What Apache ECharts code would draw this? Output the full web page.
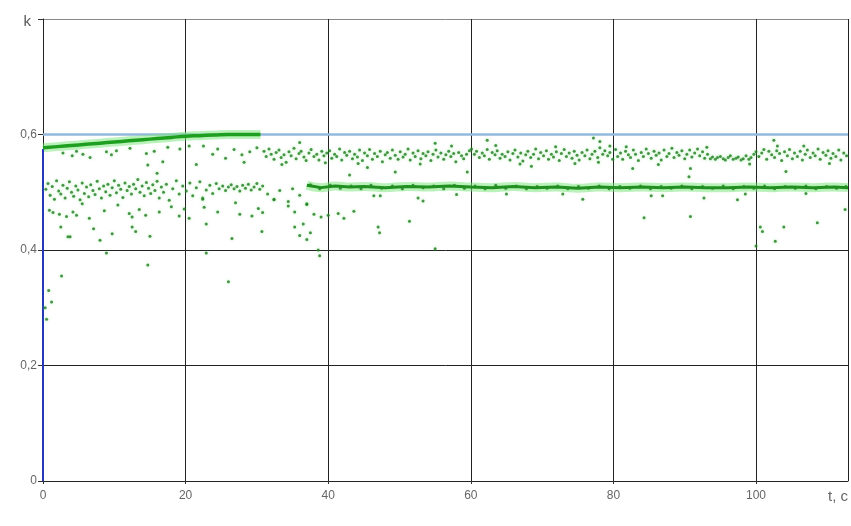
<!DOCTYPE html>
<html><head><meta charset="utf-8">
<script src="https://cdn.jsdelivr.net/npm/echarts@6/dist/echarts.min.js"></script>
<style>html,body{margin:0;padding:0;background:#fff}#c{width:851px;height:526px}</style>
</head><body><div id="c"></div>
<script>
// axis ticks
const xTicks = [0, 20, 40, 60, 80, 100];
const yTicks = [0, 0.2, 0.4, 0.6, 0.8];
const xMax = 112.9;

// blue curves
const blueRise = [[0, 0], [0, 0.575]];
const limitLine = [[0, 0.6], [112.9, 0.6]];

// dense green bands
const upperRise = [[0,0.577],[2,0.579],[4,0.581],[6,0.583],[8,0.585],[10,0.587],[12,0.589],[14,0.591],[16,0.593],[18,0.595],[20,0.597],[22,0.598],[24,0.599],[26,0.6],[28,0.6],[30.5,0.6]];
const lowerLine = [[37,0.512],[39,0.508],[41,0.511],[43,0.509],[45,0.51],[48,0.508],[51,0.51],[54,0.509],[57,0.511],[60,0.509],[63,0.508],[66,0.51],[69,0.508],[72,0.509],[75,0.507],[78,0.509],[81,0.508],[84,0.509],[87,0.508],[90,0.509],[93,0.508],[96,0.508],[99,0.509],[102,0.508],[105,0.509],[108,0.508],[111,0.509],[112.9,0.508]];

// scattered points
const upperEarly = [[2.8,0.568],[4.1,0.563],[4.7,0.571],[5.6,0.566],[6.6,0.56],[8.9,0.57],[9.6,0.565],[10.3,0.572],[12.2,0.576],[14.5,0.567],[15.6,0.571],[16.8,0.553],[14.7,0.547],[16,0.533],[17.5,0.578],[19.2,0.575],[20.5,0.58],[22.5,0.58],[23.8,0.566],[24.5,0.575],[25.6,0.559],[26.8,0.574],[27.9,0.565],[29,0.57],[30,0.577],[21.5,0.548],[28.2,0.552]];
const upperCluster = [
[31.0,.571],[31.3,.562],[31.7,.575],[32.0,.566],[32.4,.557],[32.7,.569],[33.1,.573],[33.4,.56],[33.8,.565],[34.1,.552],[34.5,.57],[34.8,.563],[35.2,.576],
[35.5,.558],[35.9,.567],[36.2,.571],[36.6,.561],[36.9,.555],[37.3,.568],[37.6,.574],[38.0,.562],[38.4,.566],[38.7,.556],[39.1,.571],[39.4,.563],[39.8,.568],
[40.2,.572],[40.5,.559],[40.9,.566],[41.2,.562],[41.6,.575],[41.9,.556],[42.3,.569],[42.6,.564],[43.0,.571],[43.4,.558],[43.7,.566],[44.1,.561],[44.4,.573],[44.8,.555],
[45.1,.568],[45.5,.563],[45.8,.574],[46.2,.557],[46.5,.567],[46.9,.562],[47.3,.571],[47.6,.553],[48.0,.565],[48.3,.569],[48.7,.559],[49.0,.573],[49.4,.564],[49.8,.557],
[50.1,.57],[50.5,.561],[50.8,.566],[51.2,.575],[51.5,.556],[51.9,.568],[52.2,.562],[52.6,.572],[53.0,.558],[53.3,.567],[53.7,.563],[54.0,.57],[54.4,.555],[54.7,.566],
[55.1,.573],[55.4,.561],[55.8,.568],[56.2,.557],[56.5,.565],[56.9,.571],[57.2,.562],[57.6,.567],[57.9,.553],[58.3,.569],[58.7,.563],[59.0,.558],[59.4,.566],
[59.8,.572],[60.1,.575],[60.5,.566],[60.8,.571],[61.2,.56],[61.6,.568],[61.9,.563],[62.3,.574],[62.6,.557],[63.0,.569],[63.4,.565],[63.7,.572],[64.1,.559],[64.4,.566],[64.8,.562],
[65.2,.57],[65.5,.556],[65.9,.567],[66.2,.573],[66.6,.561],[67.0,.568],[67.3,.554],[67.7,.565],[68.0,.571],[68.4,.56],[68.8,.566],[69.1,.575],[69.5,.558],[69.8,.569],
[70.2,.563],[70.6,.572],[70.9,.557],[71.3,.566],[71.6,.561],[72.0,.57],[72.4,.555],[72.7,.567],[73.1,.574],[73.4,.562],[73.8,.568],[74.2,.559],[74.5,.571],[74.9,.564],
[75.2,.556],[75.6,.569],[76.0,.563],[76.3,.573],[76.7,.558],[77.0,.566],[77.4,.571],[77.8,.56],[78.1,.577],[78.5,.566],[78.8,.572],[79.2,.563],[79.5,.569],[79.9,.557],
[80.3,.574],[80.6,.562],[81.0,.568],[81.3,.557],[81.7,.571],[82.1,.565],[82.4,.56],[82.8,.573],[83.1,.566],[83.5,.555],[83.9,.569],[84.2,.562],[84.6,.575],[84.9,.567],
[85.3,.559],[85.7,.571],[86.0,.564],[86.4,.568],[86.7,.556],[87.1,.573],[87.5,.562],[87.8,.567],[88.2,.576],[88.5,.56],[88.9,.569],[89.2,.564],[89.6,.572],
[90.0,.558],[90.3,.566],[90.7,.573],[91.0,.561],[91.4,.568],[91.8,.575],[92.1,.563],[92.5,.57],[92.8,.559],[93.2,.566],[93.6,.558],[93.9,.561],[94.3,.557],[94.6,.56],
[95.0,.562],[95.4,.558],[95.7,.556],[96.1,.56],[96.4,.563],[96.8,.557],[97.2,.559],[97.5,.561],[97.9,.556],[98.2,.558],[98.6,.563],[99.0,.557],[99.3,.56],[99.7,.566],
[100.0,.57],[100.4,.562],[100.8,.568],[101.1,.574],[101.5,.557],[101.8,.571],[102.2,.565],[102.6,.56],[102.9,.572],[103.3,.567],[103.6,.555],[104.0,.57],[104.4,.563],[104.7,.574],
[105.1,.558],[105.4,.568],[105.8,.562],[106.2,.571],[106.5,.556],[106.9,.566],[107.2,.573],[107.6,.56],[108.0,.568],[108.3,.563],[108.7,.575],[109.0,.557],[109.4,.569],[109.8,.564],[110.1,.572],[110.5,.559],[110.8,.567],[111.2,.562],[111.6,.573],[111.9,.556],[112.3,.568],[112.7,.563]];
const upperOutliers = [[55,.585],[62.3,.59],[63.5,.581],[49.4,.535],[59.5,.535],[77.2,.594],[78.1,.588],[79.5,.58],[77.9,.552],[82.7,.541],[102.5,.59],[103,.58],[90.8,.541],[90.6,.527],[104.2,.536],[36,.586],[45.5,.543],[68.5,.545],[43,.53],
[33.5,.548],[39.6,.551],[44.2,.55],[52.9,.549],[57.3,.58],[66.9,.549],[71.9,.579],[74.6,.55],[81.8,.579],[86.3,.548],[93.1,.578],[99.1,.549],[106.7,.58],[110.3,.55]];
const lowerCloud = [[0.4,.505],[0.7,.515],[1.0,.495],[1.3,.51],[1.6,.488],[1.9,.52],[2.2,.502],[2.5,.497],[2.8,.512],[3.1,.49],[3.4,.507],[3.7,.518],[4.0,.5],[4.3,.493],[4.6,.511],[4.9,.504],[5.2,.487],[5.5,.516],[5.8,.498],[6.1,.509],[6.4,.492],[6.7,.513],[7.0,.503],[7.3,.496],[7.6,.519],[7.9,.506],[8.2,.49],[8.5,.511],[8.8,.501],[9.1,.514],[9.4,.495],[9.7,.508],[10.0,.52],[10.3,.499],[10.6,.512],[10.9,.505],[11.2,.491],[11.5,.516],[11.8,.503],[12.1,.51],[12.4,.497],[12.7,.514],[13.0,.506],[13.3,.522],[13.6,.5],[13.9,.511],[14.2,.494],[14.5,.517],[14.8,.507],[15.1,.498],[15.4,.513],[15.7,.503],[16.0,.519],[16.3,.49],[16.6,.509],[16.9,.5],[17.3,.514],[17.7,.486],[18.2,.506],[18.7,.52],[19.1,.497],[19.6,.511],[20.1,.502],[20.6,.516],[21.0,.494],[21.5,.508],[22.0,.518],[22.4,.49],[22.9,.504],[23.4,.512],[23.8,.498],[24.3,.515],[24.7,.506],[25.2,.511],[25.6,.503],[26.0,.509],[26.4,.513],[26.8,.506],[27.2,.51],[27.6,.502],[28.0,.512],[28.4,.507],[28.8,.514],[29.2,.504],[29.6,.509],[30.0,.515],[30.4,.505],[30.8,.511],[31.5,.497],[32.4,.488],[33.2,.503],[34.4,.484],[35.0,.506],[36.0,.495],[37.0,.48]];
const lowerScatter = [[0.9,.469],[1.4,.465],[2.3,.462],[3.3,.458],[4.2,.466],[4.7,.46],[6.5,.455],[8.6,.468],[12.1,.463],[12.5,.457],[13.5,.47],[14.4,.46],[16.3,.466],[19.1,.459],[19.8,.471],[22.6,.474],[24.5,.466],[27.6,.462],[29.3,.459],[30.2,.472],[30.8,.465],[35.3,.466],[38,.462],[39,.457],[40,.46],[41.4,.463],[42.2,.455],[43.6,.467],[22.4,.488],[27,.482],[32.4,.487],[34.4,.476],[37,.479],[18,.475],[10.5,.478],[5.5,.48],
[2.5,.44],[3.5,.423],[7.1,.437],[9.7,.428],[12.5,.44],[13,.432],[3.8,.423],[8,.417],[15,.424],[22.9,.445],[30.7,.432],[35.3,.44],[36,.425],[36.5,.445],[37,.418],[37.5,.43],[38.6,.4],[38.8,.39],[47,.44],[47.2,.43],[51.4,.45],[55,.402],[84.3,.456],[90.8,.458],[100.6,.44],[100.9,.432],[103.9,.44],[102.7,.415],[108.6,.447],[112.5,.47],[100,.407],[26.5,.42],[20.5,.455],
[0.3,.30],[0.5,.28],[0.8,.33],[2.6,.355],[14.7,.374],[8.9,.395],[22.9,.395],[26,.345],[1.2,.31],
[46.4,.494],[47.3,.494],[52.6,.49],[53.3,.485],[72.9,.497],[75.7,.488],[85.3,.494],[86.9,.494],[92.7,.49],[97.4,.487],[98.5,.497],[58,.496],[65,.497],[107,.498]];
const lowerLinePts = [[37.5,.513],[38.8,.506],[40.3,.512],[41.7,.507],[43.2,.511],[44.6,.506],[46.0,.512],[47.5,.507],[49.0,.511],[50.4,.506],[51.9,.512],[53.3,.508],[54.8,.511],[56.2,.506],[57.7,.512],[59.1,.507],[60.6,.511],[62.0,.506],[63.5,.512],[64.9,.507],[66.4,.511],[67.8,.506],[69.3,.51],[70.7,.507],[72.2,.511],[73.6,.506],[75.1,.51],[76.5,.507],[78.0,.511],[79.4,.506],[80.9,.51],[82.3,.507],[83.8,.511],[85.2,.506],[86.7,.51],[88.1,.507],[89.6,.511],[91.0,.506],[92.5,.51],[93.9,.507],[95.4,.511],[96.8,.506],[98.3,.51],[99.7,.507],[101.2,.511],[102.6,.506],[104.1,.51],[105.5,.507],[107.0,.511],[108.4,.506],[109.9,.51],[111.3,.507],[112.6,.51]];

const font = "'Liberation Sans Narrow','Liberation Sans',Arial,sans-serif";
const ptStyle = {color:'#1f7a1f', shadowBlur:3, shadowColor:'rgba(100,225,100,0.7)'};
const chart = echarts.init(document.getElementById('c'), null, {renderer:'canvas'});
function scatter(data){
  return {type:'scatter', data, symbol:'circle', symbolSize:3, itemStyle:ptStyle, silent:true, z:4};
}
chart.setOption({
  animation:false,
  backgroundColor:'#fff',
  grid:{left:43, right:0, top:19, bottom:45},
  xAxis:{type:'value', min:0, max:xMax, interval:20,
    axisLine:{show:true, lineStyle:{color:'#222', width:1}},
    axisTick:{show:true, length:3, lineStyle:{color:'#333'}},
    axisLabel:{color:'#666', fontFamily:font, fontSize:12, margin:9, showMaxLabel:false,
      formatter:v=> xTicks.indexOf(Math.round(v))>=0 && Math.abs(v-Math.round(v))<1e-6 ? String(Math.round(v)) : ''},
    splitLine:{show:true, lineStyle:{color:'#222', width:1}},
    name:'t, с', nameLocation:'end', nameGap:-20,
    nameTextStyle:{color:'#666', fontFamily:font, fontSize:15, align:'left', verticalAlign:'top', padding:[8,0,0,0]}
  },
  yAxis:{type:'value', min:0, max:0.8, interval:0.2,
    axisLine:{show:true, lineStyle:{color:'#222', width:1}},
    axisTick:{show:true, length:5, lineStyle:{color:'#333'}},
    axisLabel:{color:'#666', fontFamily:font, fontSize:12, margin:6,
      formatter:v=>{ const r=Math.round(v*10)/10; const i=yTicks.indexOf(r); if(i===yTicks.length-1) return '{k|k}'; return String(r).replace('.',','); },
      rich:{k:{fontSize:15, color:'#555', fontFamily:font, padding:[6,6,0,0]}}},
    splitLine:{show:true, lineStyle:{color:['#222','#222','#222','#222','#888'], width:[1]}}
  },
  series:[
    {type:'line', data:limitLine, symbol:'none', lineStyle:{color:'#93b8dc', width:2.5}, silent:true, z:2},
    {type:'line', data:blueRise, symbol:'none', lineStyle:{color:'#2438b8', width:2}, silent:true, z:3},
    {type:'line', data:lowerLine, symbol:'none', smooth:true, lineStyle:{color:'rgba(120,230,120,0.5)', width:9}, silent:true, z:2},
    {type:'line', data:upperRise, symbol:'none', smooth:true, lineStyle:{color:'rgba(120,230,120,0.5)', width:9}, silent:true, z:2},
    scatter(upperCluster), scatter(upperEarly), scatter(upperOutliers), scatter(lowerCloud), scatter(lowerScatter), scatter(lowerLinePts),
    {type:'line', data:lowerLine, symbol:'none', lineStyle:{color:'#208f20', width:3}, silent:true, z:5},
    {type:'line', data:upperRise, symbol:'none', smooth:true, lineStyle:{color:'#1f9f1f', width:3.5}, silent:true, z:5}
  ]
});
</script></body></html>
